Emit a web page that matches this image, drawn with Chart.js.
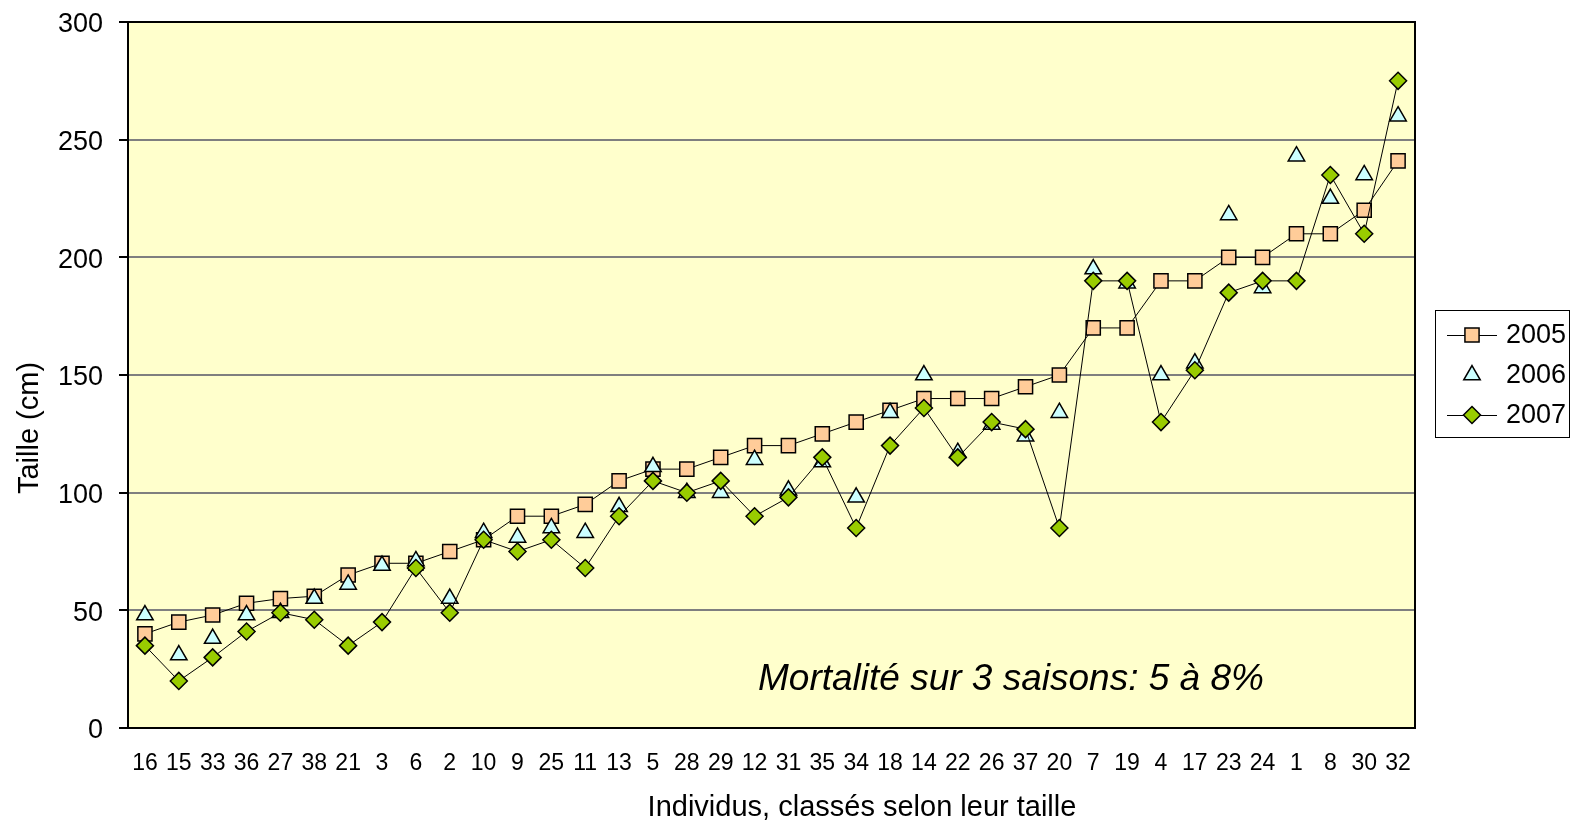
<!DOCTYPE html>
<html><head><meta charset="utf-8">
<script src="https://cdn.jsdelivr.net/npm/chart.js"></script>
<style>html,body{margin:0;padding:0;background:#fff;overflow:hidden}#wrap{width:1572px;height:824px}</style>
</head><body><div id="wrap"><canvas id="c" width="1572" height="824"></canvas></div>
<script>
const categories = ['16','15','33','36','27','38','21','3','6','2','10','9','25','11','13','5','28','29','12','31','35','34','18','14','22','26','37','20','7','19','4','17','23','24','1','8','30','32'];
const series2005 = [40,45,48,53,55,56,65,70,70,75,80,90,90,95,105,110,110,115,120,120,125,130,135,140,140,140,145,150,170,170,190,190,200,200,210,210,220,241];
const series2006 = [48,31,38,48,49,55,61,69,71,55,83,81,85,83,94,111,100,100,114,101,113,98,134,150,117,129,124,134,195,189,150,155,218,187,243,225,235,260];
const series2007 = [35,20,30,41,49,46,35,45,68,49,80,75,80,68,90,105,100,105,90,98,115,85,120,136,115,130,127,85,190,190,130,152,185,190,190,235,210,275];
const seriesNames = ['2005','2006','2007'];
const yMin = 0, yMax = 300, yStep = 50;
const yTitle = 'Taille (cm)';
const xTitle = 'Individus, classés selon leur taille';
const noteText = 'Mortalité sur 3 saisons: 5 à 8%';

const FONT = '"Liberation Sans", Arial, Helvetica, sans-serif';

function drawMarker(ctx, style, x, y, r, fill){
  ctx.save();
  ctx.fillStyle = fill; ctx.strokeStyle = '#000'; ctx.lineWidth = 1.5;
  ctx.beginPath();
  if (style === 'rect') { const s = r*Math.SQRT1_2; ctx.rect(x-s, y-s, 2*s, 2*s); }
  else if (style === 'triangle') {
    ctx.moveTo(x, y - r); ctx.lineTo(x + r*Math.sin(2*Math.PI/3), y - r*Math.cos(2*Math.PI/3));
    ctx.lineTo(x + r*Math.sin(4*Math.PI/3), y - r*Math.cos(4*Math.PI/3)); ctx.closePath();
  } else { ctx.moveTo(x, y-r); ctx.lineTo(x+r, y); ctx.lineTo(x, y+r); ctx.lineTo(x-r, y); ctx.closePath(); }
  ctx.fill(); ctx.stroke(); ctx.restore();
}

const decor = {
  id: 'decor',
  beforeDraw(chart){
    const {ctx, chartArea:a} = chart;
    ctx.save();
    ctx.fillStyle = '#ffffff'; ctx.fillRect(0,0,chart.width,chart.height);
    ctx.fillStyle = '#FFFFCC'; ctx.fillRect(a.left, a.top, a.right-a.left, a.bottom-a.top);
    ctx.restore();
  },
  beforeDatasetsDraw(chart){
    const {ctx, chartArea:a} = chart;
    ctx.save();
    ctx.strokeStyle = '#000'; ctx.lineWidth = 2;
    ctx.beginPath();
    ctx.moveTo(a.left, a.top); ctx.lineTo(a.right, a.top); ctx.lineTo(a.right, a.bottom);
    ctx.stroke();
    ctx.restore();
  },
  afterDraw(chart){
    const {ctx} = chart;
    ctx.save();
    ctx.fillStyle = '#000';
    ctx.font = '29px ' + FONT;
    ctx.textAlign = 'center'; ctx.textBaseline = 'middle';
    ctx.save(); ctx.translate(30, 428); ctx.rotate(-Math.PI/2); ctx.fillText(yTitle, 0, 0); ctx.restore();
    ctx.textBaseline = 'alphabetic';
    ctx.fillText(xTitle, 862, 816);
    ctx.font = 'italic 37px ' + FONT;
    ctx.textAlign = 'left';
    ctx.fillText(noteText, 758, 690);
    const lx = 1435.5, ly = 310.5, lw = 134, lh = 127;
    ctx.fillStyle = '#fff'; ctx.fillRect(lx, ly, lw, lh);
    ctx.strokeStyle = '#000'; ctx.lineWidth = 1; ctx.strokeRect(lx, ly, lw, lh);
    chart.data.datasets.forEach((ds, i) => {
      const cy = 335 + i*40;
      if (ds.showLine !== false) {
        ctx.beginPath(); ctx.strokeStyle = '#000'; ctx.lineWidth = 1;
        ctx.moveTo(1447, cy + 0.5); ctx.lineTo(1497, cy + 0.5); ctx.stroke();
      }
      drawMarker(ctx, ds.pointStyle, 1472, cy, ds.pointRadius, ds.pointBackgroundColor);
      ctx.fillStyle = '#000'; ctx.font = '27px ' + FONT;
      ctx.textAlign = 'left'; ctx.textBaseline = 'middle';
      ctx.fillText(ds.label, 1506, cy + 1);
    });
    ctx.restore();
  }
};

function zeroPad(s){ s.paddingTop = 0; s.paddingBottom = 0; s.paddingLeft = 0; s.paddingRight = 0; }

new Chart(document.getElementById('c'), {
  type: 'line',
  data: {
    labels: categories,
    datasets: [
      { label: seriesNames[0], data: series2005, order: 3, borderColor: '#000', borderWidth: 1,
        pointStyle: 'rect', pointRadius: 10, pointBackgroundColor: '#FFCC99', pointBorderColor: '#000', pointBorderWidth: 1.5, tension: 0 },
      { label: seriesNames[1], data: series2006, order: 2, showLine: false, borderColor: '#000',
        pointStyle: 'triangle', pointRadius: 9.5, pointBackgroundColor: '#CCFFFF', pointBorderColor: '#000', pointBorderWidth: 1.5 },
      { label: seriesNames[2], data: series2007, order: 1, borderColor: '#000', borderWidth: 1,
        pointStyle: 'rectRot', pointRadius: 8.5, pointBackgroundColor: '#99CC00', pointBorderColor: '#000', pointBorderWidth: 1.5, tension: 0 }
    ]
  },
  options: {
    responsive: false, animation: false, devicePixelRatio: 1,
    layout: { padding: { top: 22, right: 157, left: 0, bottom: 0 } },
    plugins: { legend: { display: false }, tooltip: { enabled: false }, title: { display: false } },
    scales: {
      x: {
        type: 'category', offset: true,
        grid: { display: false, drawTicks: false, tickLength: 0 },
        border: { display: true, color: '#000', width: 2 },
        ticks: { color: '#000', font: { family: FONT, size: 23 }, padding: 22, maxRotation: 0, minRotation: 0, autoSkip: false },
        afterFit(s){ s.height = 96; zeroPad(s); }
      },
      y: {
        min: yMin, max: yMax,
        grid: { color: '#7f7f7f', lineWidth: 2, drawTicks: true, tickLength: 9, tickColor: '#000', tickWidth: 2 },
        border: { display: true, color: '#000', width: 2 },
        ticks: { stepSize: yStep, color: '#000', font: { family: FONT, size: 27 }, padding: 16, labelOffset: 3 },
        afterFit(s){ s.width = 128; zeroPad(s); }
      }
    }
  },
  plugins: [decor]
});
</script></body></html>
